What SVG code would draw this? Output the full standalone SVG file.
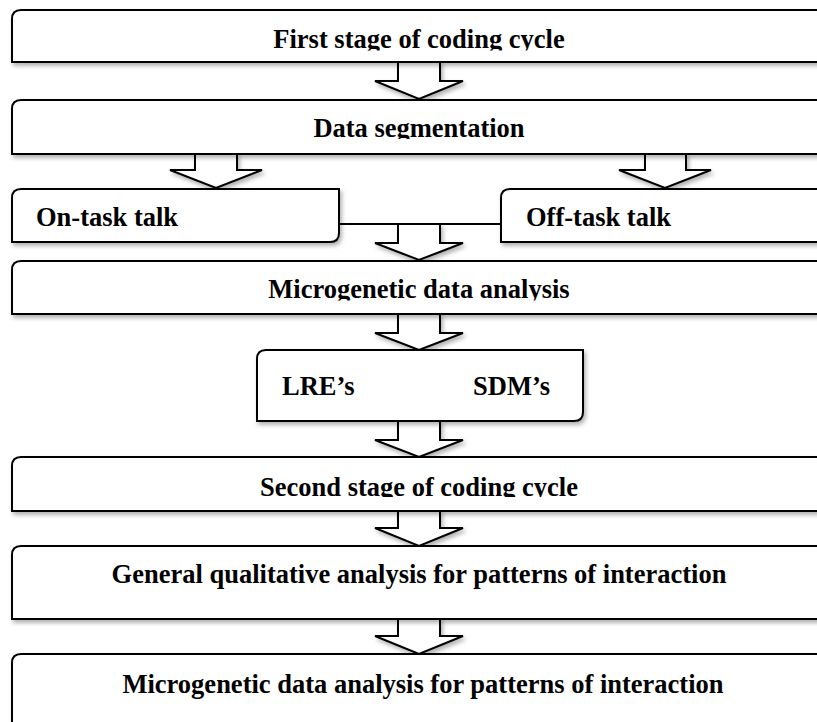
<svg xmlns="http://www.w3.org/2000/svg" width="817" height="722" viewBox="0 0 817 722">
<style>
.box{fill:#fff;stroke:#000;stroke-width:2;filter:url(#sh)}
.arr{fill:#fff;stroke:#000;stroke-width:2;stroke-linejoin:miter;filter:url(#sh)}
.t{font-family:"Liberation Serif","Times New Roman",serif;font-weight:bold;font-size:26.5px;fill:#000}
.c{text-anchor:middle}
.ln{stroke:#000;stroke-width:2;fill:none}
</style>
<defs>
<filter id="sh" x="-5%" y="-20%" width="115%" height="160%">
<feDropShadow dx="2" dy="3" stdDeviation="2" flood-color="#000" flood-opacity="0.3"/>
</filter>
<clipPath id="c1"><rect x="0" y="0" width="817" height="50.5"/></clipPath>
<clipPath id="c2"><rect x="0" y="100" width="817" height="39"/></clipPath>
<clipPath id="c3"><rect x="0" y="261" width="817" height="39.5"/></clipPath>
<clipPath id="c5"><rect x="0" y="457" width="817" height="40"/></clipPath>
</defs>
<rect width="817" height="722" fill="#fff"/>
<g id="connectors">
<path class="ln" d="M339,224 H501"/>
<polygon class="arr" points="398,62 440,62 440,81 463,81 419,99 375,81 398,81"/>
<polygon class="arr" points="195,154 237,154 237,170 262,170 216,188 170,170 195,170"/>
<polygon class="arr" points="645,154 686,154 686,170 711,170 665,188 619,170 645,170"/>
<polygon class="arr" points="398,224 440,224 440,243 463,243 419,260 375,243 398,243"/>
<polygon class="arr" points="398,314 440,314 440,333 463,333 419,350 375,333 398,333"/>
<polygon class="arr" points="398,421 440,421 440,440 463,440 419,457 375,440 398,440"/>
<polygon class="arr" points="398,511 440,511 440,528 463,528 419,546 375,528 398,528"/>
<polygon class="arr" points="398,619 440,619 440,636 463,636 419,654 375,636 398,636"/>
</g>
<g id="n1">
<path class="box" d="M12,19 Q12,10 21,10 H840 V62 H12 Z"/>
<text class="t c" x="419" y="48" clip-path="url(#c1)">First stage of coding cycle</text>
</g>
<g id="n2">
<path class="box" d="M12,109 Q12,100 21,100 H840 V154 H12 Z"/>
<text class="t c" x="419" y="137" clip-path="url(#c2)">Data segmentation</text>
</g>
<g id="n3">
<path class="box" d="M12,198 Q12,189 21,189 H339 V233 Q339,242 330,242 H12 Z"/>
<text class="t" x="36" y="226">On-task talk</text>
</g>
<g id="n4">
<path class="box" d="M501,198 Q501,189 510,189 H840 V242 H501 Z"/>
<text class="t" x="526" y="226">Off-task talk</text>
</g>
<g id="n5">
<path class="box" d="M12,270 Q12,261 21,261 H840 V314 H12 Z"/>
<text class="t c" x="419" y="298" clip-path="url(#c3)">Microgenetic data analysis</text>
</g>
<g id="n6">
<path class="box" d="M257,359 Q257,350 266,350 H583 V412 Q583,421 574,421 H257 Z"/>
<text class="t" x="282" y="395">LRE’s</text>
<text class="t" x="473" y="395">SDM’s</text>
</g>
<g id="n7">
<path class="box" d="M12,466 Q12,457 21,457 H840 V511 H12 Z"/>
<text class="t c" x="419" y="496" clip-path="url(#c5)">Second stage of coding cycle</text>
</g>
<g id="n8">
<path class="box" d="M12,555 Q12,546 21,546 H840 V619 H12 Z"/>
<text class="t c" x="419" y="583">General qualitative analysis for patterns of interaction</text>
</g>
<g id="n9">
<path class="box" d="M12,663 Q12,654 21,654 H840 V760 H12 Z"/>
<text class="t c" x="423" y="693">Microgenetic data analysis for patterns of interaction</text>
</g>
</svg>
